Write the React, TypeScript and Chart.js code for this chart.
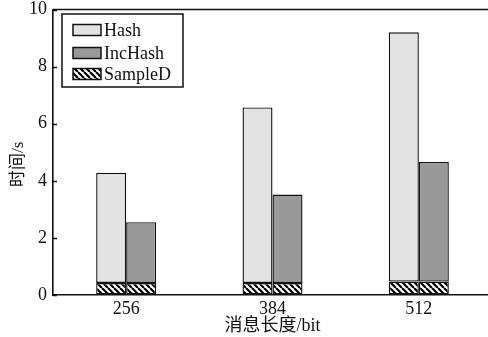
import React, { useEffect, useRef } from 'react';
import { Chart, registerables } from 'chart.js';

Chart.register(...registerables);

// ---- data ----
const categories = ['256', '384', '512'];
const hashTimes = [4.28, 6.57, 9.2];
const incHashTimes = [2.55, 3.52, 4.66];
const sampleDTimes = [0.42, 0.42, 0.47];
const yTickValues = [0, 2, 4, 6, 8, 10];
const seriesNames = ['Hash', 'IncHash', 'SampleD'];
const xTitle = '消息长度/bit';
const yTitle = '时间/s';

const SERIF = "'Liberation Serif', 'Times New Roman', 'Noto Sans CJK SC', serif";
const HASH_COLOR = '#e3e3e3';
const INC_COLOR = '#999999';
const LINE = '#111111';

function makeHatch(): CanvasPattern | string {
  const s = 6;
  const c = document.createElement('canvas');
  c.width = s;
  c.height = s;
  const g = c.getContext('2d');
  if (!g) return '#888';
  g.fillStyle = '#ffffff';
  g.fillRect(0, 0, s, s);
  g.strokeStyle = '#000000';
  g.lineWidth = 2.2;
  g.beginPath();
  for (const k of [-s, 0, s]) {
    g.moveTo(k, 0);
    g.lineTo(k + s, s);
  }
  g.stroke();
  const p = g.createPattern(c, 'repeat');
  return p || '#888';
}

export default function App() {
  const ref = useRef<HTMLCanvasElement | null>(null);

  useEffect(() => {
    if (!ref.current) return;
    const hatch = makeHatch();
    const hashUpper = hashTimes.map((v, i) => v - sampleDTimes[i]);
    const incUpper = incHashTimes.map((v, i) => v - sampleDTimes[i]);

    const common = {
      borderColor: LINE,
      borderWidth: 1.4,
      borderSkipped: false as const,
      categoryPercentage: 0.41,
      barPercentage: 1.0,
    };

    const legendItems = [
      { label: seriesNames[0], fill: HASH_COLOR as any },
      { label: seriesNames[1], fill: INC_COLOR as any },
      { label: seriesNames[2], fill: hatch as any },
    ];

    const overlayPlugin = {
      id: 'overlay',
      afterDraw(chart: any) {
        const { ctx, chartArea: ca, scales } = chart;
        ctx.save();
        // top frame line
        ctx.strokeStyle = LINE;
        ctx.lineWidth = 1.5;
        ctx.beginPath();
        ctx.moveTo(ca.left, ca.top);
        ctx.lineTo(ca.right, ca.top);
        ctx.stroke();
        // inward y tick marks
        const ys = scales.y;
        ctx.lineWidth = 1.3;
        ctx.beginPath();
        yTickValues.forEach((v) => {
          const py = Math.round(ys.getPixelForValue(v)) + 0.5;
          ctx.moveTo(ca.left, py);
          ctx.lineTo(ca.left + 4, py);
        });
        ctx.stroke();
        // y title
        ctx.save();
        ctx.translate(19, (ca.top + ca.bottom) / 2 + 12);
        ctx.rotate(-Math.PI / 2);
        ctx.fillStyle = LINE;
        ctx.font = `17px ${SERIF}`;
        ctx.textAlign = 'center';
        ctx.textBaseline = 'middle';
        ctx.fillText(yTitle, 0, 0);
        ctx.restore();
        // legend box
        const bx = ca.left + 9;
        const by = 14;
        const bw = 121;
        const bh = 73;
        ctx.fillStyle = '#ffffff';
        ctx.fillRect(bx, by, bw, bh);
        ctx.strokeStyle = LINE;
        ctx.lineWidth = 1.5;
        ctx.strokeRect(bx, by, bw, bh);
        const rows = [30, 53, 74];
        legendItems.forEach((it, i) => {
          const cy = rows[i];
          ctx.fillStyle = it.fill;
          ctx.fillRect(bx + 11, cy - 5.5, 28, 11);
          ctx.strokeStyle = LINE;
          ctx.lineWidth = 1.5;
          ctx.strokeRect(bx + 11, cy - 5.5, 28, 11);
          ctx.fillStyle = LINE;
          ctx.font = `18px ${SERIF}`;
          ctx.textAlign = 'left';
          ctx.textBaseline = 'middle';
          ctx.fillText(it.label, bx + 42, cy + 1);
        });
        ctx.restore();
      },
    };

    const chart = new Chart(ref.current, {
      type: 'bar',
      data: {
        labels: categories,
        datasets: [
          { ...common, label: seriesNames[2], data: sampleDTimes, backgroundColor: hatch as any, stack: 'hash' },
          { ...common, label: seriesNames[0], data: hashUpper, backgroundColor: HASH_COLOR, stack: 'hash' },
          { ...common, label: seriesNames[2] + '-2', data: sampleDTimes, backgroundColor: hatch as any, stack: 'inc' },
          { ...common, label: seriesNames[1], data: incUpper, backgroundColor: INC_COLOR, stack: 'inc' },
        ],
      },
      options: {
        responsive: false,
        animation: false,
        devicePixelRatio: 1,
        layout: { padding: { top: 9.5, right: 4, left: 0, bottom: 0 } },
        plugins: {
          legend: { display: false },
          tooltip: { enabled: false },
          title: { display: false },
        },
        scales: {
          x: {
            stacked: true,
            offset: true,
            grid: { display: true, drawOnChartArea: false, drawTicks: false },
            border: { display: true, color: LINE, width: 1.6 },
            ticks: { color: LINE, font: { family: SERIF, size: 18 }, padding: 3 },
            title: {
              display: true,
              text: xTitle,
              color: LINE,
              font: { family: SERIF, size: 18, lineHeight: 1.2 },
              padding: { top: 0, bottom: 0 },
            },
            afterFit: (s: any) => {
              s.height = 42;
              s.paddingLeft = 0;
              s.paddingRight = 0;
            },
          },
          y: {
            stacked: true,
            min: 0,
            max: 10,
            ticks: {
              stepSize: 2,
              color: LINE,
              font: { family: SERIF, size: 18, lineHeight: 1 },
              padding: 6,
            },
            grid: { display: true, drawOnChartArea: false, drawTicks: false },
            border: { display: true, color: LINE, width: 1.6 },
            afterFit: (s: any) => {
              s.width = 53;
              s.paddingTop = 0;
              s.paddingBottom = 0;
            },
          },
        },
      },
      plugins: [overlayPlugin],
    });
    return () => chart.destroy();
  }, []);

  return (
    <div
      style={{
        position: 'fixed',
        left: 0,
        top: 0,
        width: 488,
        height: 337,
        overflow: 'hidden',
        background: '#ffffff',
      }}
    >
      <canvas ref={ref} width={496} height={337} style={{ display: 'block' }} />
    </div>
  );
}
